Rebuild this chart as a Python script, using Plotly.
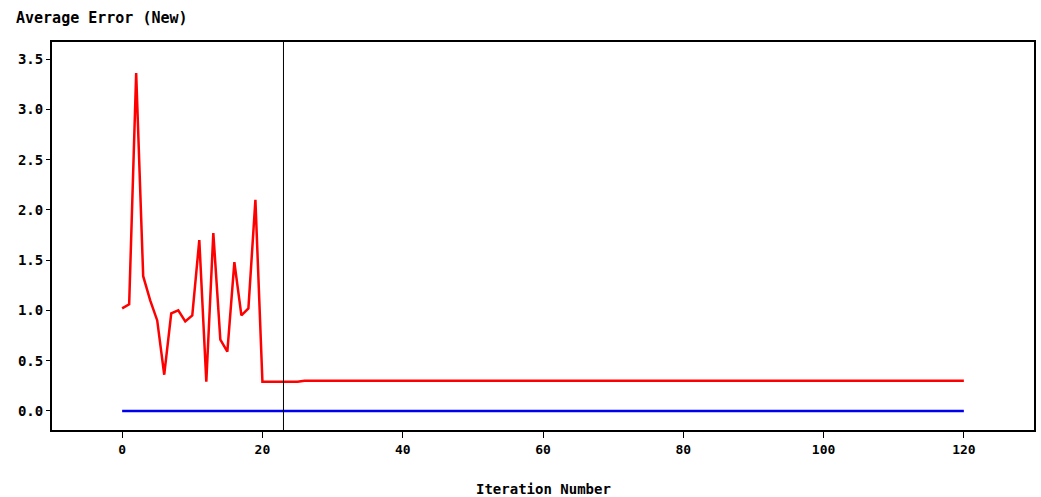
import plotly.graph_objects as go

# Data
iter_red = [0, 1, 2, 3, 4, 5, 6, 7, 8, 9, 10, 11, 12, 13, 14, 15, 16, 17, 18, 19,
            20, 21, 22, 23, 24, 25, 26, 120]
err_new = [1.02, 1.06, 3.36, 1.34, 1.10, 0.90, 0.36, 0.97, 1.00, 0.89, 0.95, 1.70,
           0.29, 1.77, 0.71, 0.59, 1.48, 0.95, 1.02, 2.10,
           0.29, 0.29, 0.29, 0.29, 0.29, 0.29, 0.30, 0.30]
iter_blue = [0, 120]
err_ref = [0.0, 0.0]
ref_iter = 23

x_ticks = [0, 20, 40, 60, 80, 100, 120]
y_ticks = [0.0, 0.5, 1.0, 1.5, 2.0, 2.5, 3.0, 3.5]
y_labels = ["0.0", "0.5", "1.0", "1.5", "2.0", "2.5", "3.0", "3.5"]

font_fam = "DejaVu Sans Mono"
W, H = 1041, 497
L, R, T, B = 52, 7, 42, 67
pw, ph = W - L - R, H - T - B

fig = go.Figure()
fig.add_trace(go.Scatter(x=iter_blue, y=err_ref, mode="lines",
                         line=dict(color="#0000ee", width=2.5), showlegend=False))
fig.add_trace(go.Scatter(x=iter_red, y=err_new, mode="lines",
                         line=dict(color="#ff0000", width=2.5), showlegend=False))

fig.add_vline(x=ref_iter, line=dict(color="black", width=1))

fig.update_layout(
    width=W, height=H,
    margin=dict(l=L, r=R, t=T, b=B, autoexpand=False),
    paper_bgcolor="white", plot_bgcolor="white",
    font=dict(family=font_fam, size=12, color="black"),
    xaxis=dict(range=[-10, 130], tickvals=x_ticks, showgrid=False, zeroline=False,
               automargin=False,
               showline=True, linecolor="black", linewidth=2, mirror=True,
               ticks="outside", ticklen=6, tickwidth=1, tickcolor="black",
               tickfont=dict(family=font_fam, size=13, weight="bold")),
    yaxis=dict(range=[-0.19, 3.67], tickvals=y_ticks, ticktext=y_labels,
               automargin=False,
               showgrid=False, zeroline=False,
               showline=True, linecolor="black", linewidth=2, mirror=True,
               ticks="outside", ticklen=4, tickwidth=1, tickcolor="black",
               tickfont=dict(family=font_fam, size=14, weight="bold")),
    annotations=[
        dict(text="<b>Average Error (New)</b>", x=(14 - L) / pw, y=1 + (T - 18) / ph,
             xref="paper", yref="paper", showarrow=False, xanchor="left", yanchor="middle",
             font=dict(family=font_fam, size=15)),
        dict(text="<b>Iteration Number</b>", x=(543 - L) / pw, y=-(489 - (T + ph)) / ph,
             xref="paper", yref="paper", showarrow=False, xanchor="center", yanchor="middle",
             font=dict(family=font_fam, size=14)),
    ],
)

fig.write_html("out.html", config={"displayModeBar": False},
               post_script="document.body.style.margin='0';document.body.style.overflow='hidden';")
